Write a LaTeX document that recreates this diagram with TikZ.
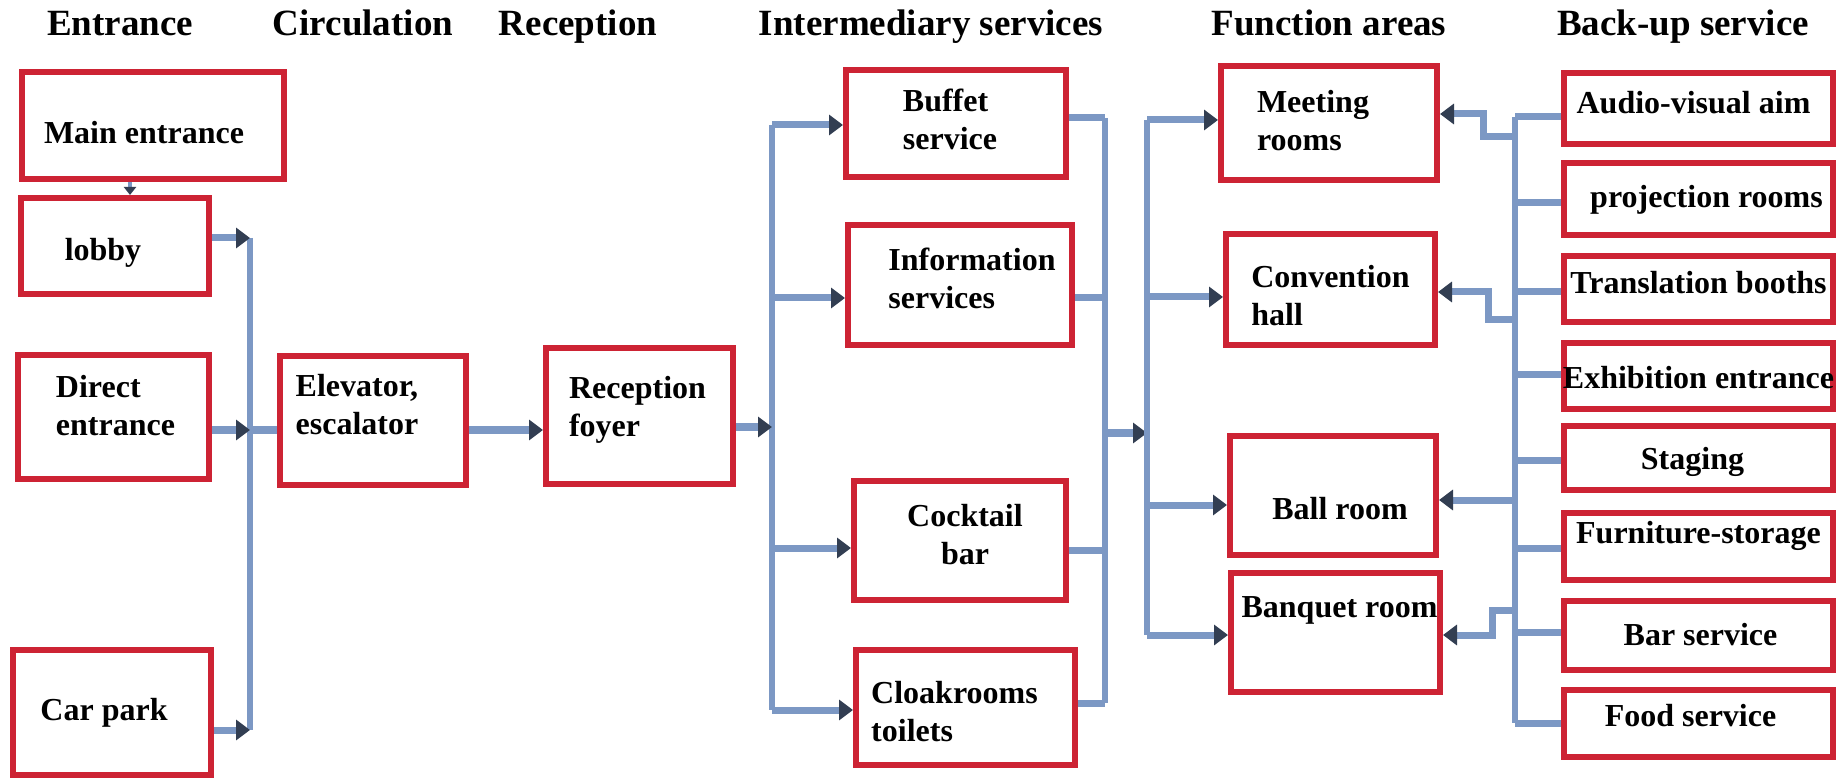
\documentclass[tikz,border=0pt]{standalone}
\usepackage{fontspec}
\setmainfont{Liberation Serif}
\usetikzlibrary{arrows.meta}
\definecolor{boxred}{RGB}{205,35,52}
\definecolor{linkblue}{RGB}{124,152,196}
\definecolor{tipdark}{RGB}{50,62,82}
\tikzset{
 box/.style={draw=boxred, line width=3pt, fill=white, inner sep=0pt},
 txt/.style={font=\fontsize{16}{19}\selectfont\bfseries, align=center, inner sep=0pt},
 head/.style={font=\fontsize{18.5}{22}\selectfont\bfseries, anchor=base, inner sep=0pt},
 bus/.style={draw=linkblue, line width=2.75pt},
 link/.style={draw=linkblue, line width=3.5pt},
 arr/.style={link, -{Triangle[length=7pt,width=10pt,color=tipdark]}},
 arrs/.style={draw=linkblue, line width=2pt, -{Triangle[length=4pt,width=6pt,color=tipdark]}},
}
% [align]{name}{x1}{y1}{x2}{y2}{dx}{dy}{text}  (pixel units, y downwards)
\newcommand\mkbox[9][]{%
  \node[box, minimum width={0.5pt*(#5-#3-6)}, minimum height={0.5pt*(#6-#4-6)}] (#2) at ({(#3+#5)/2},{(#4+#6)/2}) {};
  \node[txt,#1] (#2-t) at ([xshift={0.5pt*(#7)}, yshift={-0.5pt*(#8)}]#2.center) {#9};}
\begin{document}
\begin{tikzpicture}[x=0.5pt,y=-0.5pt]
\useasboundingbox (0,0) rectangle (1841,780);
% headers
\node[head] (h1) at (120,36) {Entrance};
\node[head] (h2) at (363,36) {Circulation};
\node[head] (h3) at (578,36) {Reception};
\node[head] (h4) at (931,36) {Intermediary services};
\node[head] (h5) at (1329,36) {Function areas};
\node[head] (h6) at (1683,36) {Back-up service};
% entrance column
\mkbox{main}{19}{69}{287}{182}{-9}{7}{Main entrance}
\mkbox{lobby}{18}{195}{212}{297}{-12}{7}{lobby}
\mkbox[align=left]{direct}{15}{352}{212}{482}{2}{-11}{Direct\\entrance}
\mkbox{car}{10}{647}{214}{778}{-8}{0}{Car park}
% circulation / reception
\mkbox[align=left]{elev}{277}{353}{469}{488}{-16}{-16}{Elevator,\\escalator}
\mkbox[align=left]{recep}{543}{345}{736}{487}{-2}{-6}{Reception\\foyer}
% intermediary
\mkbox[align=left]{buffet}{843}{67}{1069}{180}{-6}{-4}{Buffet\\service}
\mkbox[align=left]{info}{845}{222}{1075}{348}{12}{-7}{Information\\services}
\mkbox{cock}{851}{478}{1069}{603}{5}{-6}{Cocktail\\bar}
\mkbox[align=left]{cloak}{853}{647}{1078}{768}{-11}{4}{Cloakrooms\\toilets}
% function areas
\mkbox[align=left]{meet}{1218}{63}{1440}{183}{-16}{-2}{Meeting\\rooms}
\mkbox[align=left]{conv}{1223}{231}{1438}{348}{0}{6}{Convention\\hall}
\mkbox{ball}{1227}{433}{1439}{558}{7}{13}{Ball room}
\mkbox{banq}{1228}{570}{1443}{695}{4}{-22}{Banquet room}
% back-up services
\mkbox{av}{1561}{70}{1836}{147}{-5}{-6}{Audio-visual aim}
\mkbox{proj}{1561}{160}{1836}{238}{8}{1}{projection rooms}
\mkbox{trans}{1561}{253}{1836}{325}{0}{-6}{Translation booths}
\mkbox{exhib}{1561}{340}{1836}{412}{0}{2}{Exhibition entrance}
\mkbox{stag}{1561}{423}{1836}{493}{-6}{4}{Staging}
\mkbox{furn}{1561}{510}{1836}{583}{0}{-11}{Furniture-storage}
\mkbox{bars}{1561}{598}{1836}{673}{2}{-1}{Bar service}
\mkbox{food}{1561}{687}{1836}{760}{-8}{-8}{Food service}
% coordinates of the buses
\coordinate (ml) at (130,0);
\coordinate (e1) at (250,238);
\coordinate (e2) at (250,430);
\coordinate (e3) at (250,730);
\coordinate (i1) at (772,125);
\coordinate (i2) at (772,298);
\coordinate (i3) at (772,548);
\coordinate (i4) at (772,710);
\coordinate (iin) at (772,427);
\coordinate (t1) at (1105,118);
\coordinate (t2) at (1105,298);
\coordinate (t3) at (1105,550);
\coordinate (t4) at (1105,703);
\coordinate (tout) at (1105,433);
\coordinate (f1) at (1147,120);
\coordinate (f2) at (1147,297);
\coordinate (f3) at (1147,505);
\coordinate (f4) at (1147,635);
\coordinate (fin) at (1147,433);
\coordinate (s1) at (1515,117);
\coordinate (s2) at (1515,203);
\coordinate (s3) at (1515,292);
\coordinate (s4) at (1515,375);
\coordinate (s5) at (1515,460);
\coordinate (s6) at (1515,548);
\coordinate (s7) at (1515,632);
\coordinate (s8) at (1515,723);
\coordinate (m1) at (1515,137);
\coordinate (c1) at (1515,320);
\coordinate (b1) at (1515,500);
\coordinate (q1) at (1515,610);
\coordinate (mk) at (1483,114);
\coordinate (ck) at (1488,292);
\coordinate (qk) at (1492,635);
% entrance connectors
\draw[arrs] (main.south -| ml) -- (lobby.north -| ml);
\draw[bus] (e1) -- (e3);
\draw[arr] (lobby.east |- e1) -- (e1);
\draw[arr] (direct.east |- e2) -- (e2);
\draw[arr] (car.east |- e3) -- (e3);
\draw[link] (e2) -- (elev.west |- e2);
\draw[arr] (elev.east |- e2) -- (recep.west |- e2);
% intermediary connectors
\draw[bus] (i1) -- (i4);
\draw[arr] (recep.east |- iin) -- (iin);
\draw[arr] (i1) -- (buffet.west |- i1);
\draw[arr] (i2) -- (info.west |- i2);
\draw[arr] (i3) -- (cock.west |- i3);
\draw[arr] (i4) -- (cloak.west |- i4);
\draw[bus] (t1) -- (t4);
\draw[link] (buffet.east |- t1) -- (t1);
\draw[link] (info.east |- t2) -- (t2);
\draw[link] (cock.east |- t3) -- (t3);
\draw[link] (cloak.east |- t4) -- (t4);
\draw[arr] (tout) -- (fin);
% function connectors
\draw[bus] (f1) -- (f4);
\draw[arr] (f1) -- (meet.west |- f1);
\draw[arr] (f2) -- (conv.west |- f2);
\draw[arr] (f3) -- (ball.west |- f3);
\draw[arr] (f4) -- (banq.west |- f4);
% back-up connectors
\draw[bus] (s1) -- (s8);
\draw[link] (av.west |- s1) -- (s1);
\draw[link] (proj.west |- s2) -- (s2);
\draw[link] (trans.west |- s3) -- (s3);
\draw[link] (exhib.west |- s4) -- (s4);
\draw[link] (stag.west |- s5) -- (s5);
\draw[link] (furn.west |- s6) -- (s6);
\draw[link] (bars.west |- s7) -- (s7);
\draw[link] (food.west |- s8) -- (s8);
\draw[arr] (m1) -| (mk) -- (meet.east |- mk);
\draw[arr] (c1) -| (ck) -- (conv.east |- ck);
\draw[arr] (b1) -- (ball.east |- b1);
\draw[arr] (q1) -| (qk) -- (banq.east |- qk);
\end{tikzpicture}
\end{document}
